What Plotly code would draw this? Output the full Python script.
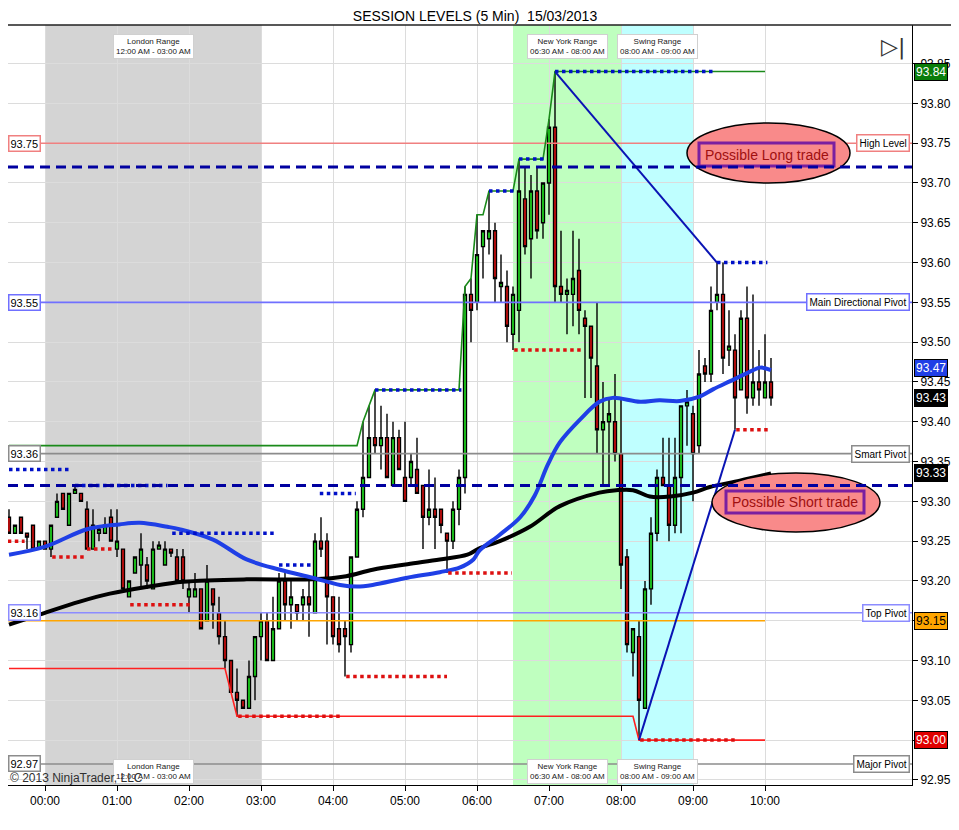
import pandas as pd
import plotly.graph_objects as go

# ---- 5 min bars, 23:30 (previous day) -> 10:05 ----
bar_open = [93.28, 93.26, 93.28, 93.26, 93.27, 93.24, 93.25, 93.24, 93.28, 93.31,
            93.27, 93.31, 93.31, 93.29, 93.24, 93.26, 93.26, 93.28, 93.24, 93.24,
            93.18, 93.21, 93.22, 93.22, 93.19, 93.24, 93.22, 93.24, 93.23, 93.23,
            93.18, 93.18, 93.19, 93.15, 93.19, 93.16, 93.13, 93.10, 93.06, 93.05,
            93.04, 93.08, 93.13, 93.15, 93.10, 93.14, 93.20, 93.17, 93.17, 93.17,
            93.18, 93.16, 93.25, 93.25, 93.18, 93.14, 93.14, 93.12, 93.23, 93.29,
            93.33, 93.38, 93.37, 93.38, 93.32, 93.38, 93.33, 93.33, 93.34, 93.32,
            93.28, 93.29, 93.29, 93.26, 93.25, 93.29, 93.33, 93.56, 93.55, 93.62,
            93.63, 93.64, 93.57, 93.57, 93.51, 93.54, 93.68, 93.63, 93.69, 93.65,
            93.70, 93.77, 93.57, 93.56, 93.56, 93.59, 93.53, 93.52, 93.47, 93.39,
            93.40, 93.40, 93.36, 93.23, 93.11, 93.13, 93.04, 93.19, 93.26, 93.33,
            93.32, 93.27, 93.33, 93.42, 93.41, 93.37, 93.47, 93.46, 93.55, 93.56,
            93.49, 93.49, 93.44, 93.53, 93.43, 93.45, 93.43, 93.45]
bar_high = [93.29, 93.27, 93.28, 93.26, 93.27, 93.25, 93.25, 93.27, 93.31, 93.31,
            93.31, 93.32, 93.31, 93.30, 93.29, 93.27, 93.28, 93.29, 93.29, 93.24,
            93.20, 93.23, 93.26, 93.23, 93.25, 93.25, 93.25, 93.24, 93.24, 93.24,
            93.20, 93.21, 93.19, 93.22, 93.19, 93.18, 93.15, 93.10, 93.09, 93.05,
            93.10, 93.13, 93.16, 93.16, 93.18, 93.21, 93.21, 93.20, 93.17, 93.19,
            93.20, 93.26, 93.28, 93.26, 93.18, 93.18, 93.15, 93.23, 93.30, 93.40,
            93.42, 93.44, 93.42, 93.41, 93.40, 93.39, 93.40, 93.36, 93.38, 93.32,
            93.34, 93.33, 93.29, 93.26, 93.30, 93.34, 93.57, 93.58, 93.66, 93.64,
            93.69, 93.65, 93.61, 93.59, 93.57, 93.73, 93.72, 93.71, 93.72, 93.70,
            93.78, 93.84, 93.64, 93.58, 93.64, 93.63, 93.54, 93.52, 93.55, 93.45,
            93.43, 93.46, 93.43, 93.24, 93.14, 93.15, 93.20, 93.28, 93.34, 93.38,
            93.38, 93.38, 93.42, 93.44, 93.42, 93.49, 93.48, 93.57, 93.60, 93.60,
            93.54, 93.51, 93.54, 93.57, 93.56, 93.49, 93.51, 93.48]
bar_low = [93.26, 93.26, 93.26, 93.24, 93.24, 93.24, 93.24, 93.23, 93.28, 93.29,
           93.27, 93.31, 93.30, 93.24, 93.24, 93.25, 93.26, 93.25, 93.23, 93.19,
           93.18, 93.21, 93.19, 93.19, 93.19, 93.24, 93.22, 93.23, 93.20, 93.19,
           93.16, 93.18, 93.14, 93.15, 93.14, 93.12, 93.09, 93.06, 93.03, 93.04,
           93.04, 93.05, 93.10, 93.10, 93.10, 93.14, 93.15, 93.14, 93.15, 93.15,
           93.13, 93.16, 93.23, 93.12, 93.12, 93.11, 93.08, 93.11, 93.23, 93.28,
           93.33, 93.36, 93.34, 93.33, 93.32, 93.34, 93.30, 93.32, 93.31, 93.24,
           93.27, 93.24, 93.26, 93.21, 93.24, 93.27, 93.31, 93.50, 93.54, 93.58,
           93.61, 93.55, 93.55, 93.50, 93.49, 93.50, 93.61, 93.58, 93.63, 93.63,
           93.66, 93.55, 93.55, 93.51, 93.52, 93.51, 93.43, 93.43, 93.36, 93.32,
           93.32, 93.35, 93.19, 93.11, 93.08, 93.00, 93.04, 93.17, 93.25, 93.32,
           93.25, 93.26, 93.26, 93.37, 93.30, 93.36, 93.45, 93.45, 93.54, 93.46,
           93.47, 93.39, 93.44, 93.41, 93.42, 93.42, 93.43, 93.42]
bar_close = [93.26, 93.27, 93.26, 93.255, 93.24, 93.25, 93.24, 93.27, 93.30, 93.29,
             93.31, 93.315, 93.30, 93.24, 93.27, 93.265, 93.27, 93.25, 93.25, 93.19,
             93.20, 93.23, 93.24, 93.20, 93.24, 93.245, 93.24, 93.235, 93.20, 93.20,
             93.19, 93.19, 93.14, 93.20, 93.17, 93.13, 93.10, 93.06, 93.05, 93.04,
             93.08, 93.13, 93.15, 93.10, 93.14, 93.20, 93.17, 93.18, 93.16, 93.18,
             93.17, 93.25, 93.24, 93.18, 93.13, 93.12, 93.13, 93.23, 93.29, 93.33,
             93.38, 93.37, 93.38, 93.33, 93.38, 93.34, 93.30, 93.35, 93.31, 93.28,
             93.29, 93.28, 93.27, 93.25, 93.29, 93.33, 93.56, 93.54, 93.61, 93.64,
             93.64, 93.58, 93.575, 93.52, 93.56, 93.69, 93.62, 93.69, 93.64, 93.70,
             93.77, 93.57, 93.56, 93.565, 93.58, 93.54, 93.52, 93.48, 93.39, 93.40,
             93.41, 93.36, 93.22, 93.12, 93.14, 93.05, 93.19, 93.26, 93.33, 93.32,
             93.27, 93.33, 93.42, 93.425, 93.36, 93.46, 93.46, 93.54, 93.56, 93.48,
             93.495, 93.43, 93.53, 93.43, 93.45, 93.44, 93.45, 93.43]

# ---- moving averages ----
ema_t = ["23:30", "00:00", "00:35", "01:02", "01:19", "01:42", "01:52", "02:20", "02:48",
         "03:16", "03:43", "04:06", "04:20", "04:33", "05:02", "05:29", "05:46", "05:57",
         "06:02", "06:19", "06:36", "06:48", "06:59", "07:09", "07:26", "07:42", "07:53",
         "08:16", "08:32", "08:49", "09:06", "09:17", "09:31", "09:45", "09:56", "10:05"]
ema_v = [93.233, 93.243, 93.265, 93.271, 93.273, 93.268, 93.265, 93.252, 93.227,
         93.214, 93.204, 93.195, 93.193, 93.195, 93.204, 93.211, 93.217, 93.227,
         93.238, 93.258, 93.280, 93.307, 93.346, 93.374, 93.403, 93.425, 93.430,
         93.425, 93.427, 93.426, 93.432, 93.441, 93.451, 93.461, 93.468, 93.465]
sma_t = ["23:30", "23:56", "00:29", "00:54", "01:27", "01:55", "02:48", "03:43", "04:11",
         "04:33", "05:02", "05:29", "05:52", "06:02", "06:19", "06:44", "07:09", "07:42",
         "07:56", "08:10", "08:24", "08:41", "09:00", "09:14", "09:39", "10:05"]
sma_v = [93.145, 93.158, 93.174, 93.184, 93.193, 93.199, 93.202, 93.202, 93.206,
         93.214, 93.221, 93.227, 93.233, 93.241, 93.250, 93.268, 93.294, 93.311,
         93.314, 93.314, 93.306, 93.306, 93.311, 93.318, 93.326, 93.335]

# ---- session high / low dotted segments ----
hi_lvl = [93.34, 93.32, 93.26, 93.22, 93.31, 93.44, 93.69, 93.73, 93.84, 93.60]
hi_from = ["23:30", "00:25", "01:46", "03:15", "03:49", "04:35", "06:10", "06:35", "07:05", "09:20"]
hi_to = ["00:22", "01:42", "03:12", "03:44", "04:19", "05:47", "06:32", "06:58", "09:19", "10:02"]
lo_lvl = [93.25, 93.23, 93.24, 93.17, 93.03, 93.08, 93.21, 93.49, 93.00, 93.39]
lo_from = ["23:29", "00:06", "00:35", "01:11", "02:41", "04:11", "05:36", "06:31", "08:16", "09:36"]
lo_to = ["23:43", "00:33", "00:58", "02:03", "04:07", "05:35", "06:29", "07:29", "09:35", "10:04"]

# running day high / low
run_hi_t = ["23:30", "04:20", "04:25", "04:30", "04:35", "05:45", "05:50", "05:55", "06:00",
            "06:05", "06:10", "06:30", "06:35", "06:55", "07:00", "07:05", "10:00"]
run_hi_v = [93.37, 93.37, 93.40, 93.42, 93.44, 93.44, 93.57, 93.58, 93.66,
            93.66, 93.69, 93.69, 93.73, 93.73, 93.78, 93.84, 93.84]
run_lo_t = ["23:30", "02:30", "02:35", "02:40", "08:10", "08:15", "10:00"]
run_lo_v = [93.09, 93.09, 93.06, 93.03, 93.03, 93.00, 93.00]

# swing lines
swing1_t = ["07:05", "09:20"]
swing1_v = [93.84, 93.60]
swing2_t = ["08:15", "09:35"]
swing2_v = [93.00, 93.39]

# ---- pivot levels ----
pivot_names = ["High Level", "Main Directional Pivot", "Smart Pivot", "Top Pivot", "Major Pivot"]
pivot_vals = [93.75, 93.55, 93.36, 93.16, 92.97]
pivot_cols = ["#f08080", "#7070ff", "#8c8c8c", "#8c8cff", "#8c8c8c"]
orange_lvl = 93.15
dashed_lvls = [93.72, 93.32]

hour_ticks = ["00:00", "01:00", "02:00", "03:00", "04:00", "05:00",
              "06:00", "07:00", "08:00", "09:00", "10:00"]
price_ticks = [92.95, 93.00, 93.05, 93.10, 93.15, 93.20, 93.25, 93.30, 93.35, 93.40,
               93.45, 93.50, 93.55, 93.60, 93.65, 93.70, 93.75, 93.80, 93.85]

# price markers on the axis (value, box colour, text colour)
axis_tags = [(93.84, "#0a7d0a", "white"), (93.467, "#1f3fe6", "white"), (93.43, "black", "white"),
             (93.335, "black", "white"), (93.15, "#ffa500", "black"), (93.00, "#e00000", "white")]

FONT = "Liberation Sans, Arial, sans-serif"
# page has an 8px body margin, so the figure is laid out 8px in from the window corner
OFF = 8
W, H = 959 - 2 * OFF, 830 - 2 * OFF
PLOT_L, PLOT_R, PLOT_T, PLOT_B = 8, 912, 25, 785   # window pixels
X_START = pd.Timestamp("2013-03-14 23:29:10")
X_END = pd.Timestamp("2013-03-15 12:02:30")


def t(hhmm):
    """HH:MM -> timestamp, evening hours belong to the previous day"""
    h = int(hhmm.split(":")[0])
    day = "2013-03-14" if h >= 20 else "2013-03-15"
    return pd.Timestamp(f"{day} {hhmm}")


def px_x(px):
    return (px - PLOT_L) / (PLOT_R - PLOT_L)


def px_y(py):
    return (PLOT_B - py) / (PLOT_B - PLOT_T)


def segments(levels, starts, ends):
    xs, ys = [], []
    for lv, a, b in zip(levels, starts, ends):
        xs += [t(a), t(b), None]
        ys += [lv, lv, None]
    return xs, ys


bar_time = pd.date_range("2013-03-14 23:30", periods=len(bar_open), freq="5min")

fig = go.Figure()

# pivot lines (as traces so the grid does not paint over them)
for val, col in zip(pivot_vals, pivot_cols):
    fig.add_trace(go.Scatter(x=[X_START, X_END], y=[val, val], mode="lines",
                             line=dict(color=col, width=1.6)))

# orange level + running high/low
fig.add_trace(go.Scatter(x=[X_START, t("10:00")], y=[orange_lvl, orange_lvl],
                         mode="lines", line=dict(color="#ffa500", width=1.5)))
fig.add_trace(go.Scatter(x=[t(v) for v in run_hi_t], y=run_hi_v, mode="lines",
                         line=dict(color="#1a8a1a", width=1.6)))
fig.add_trace(go.Scatter(x=[t(v) for v in run_lo_t], y=run_lo_v, mode="lines",
                         line=dict(color="#ff2020", width=1.6)))

fig.add_trace(go.Candlestick(
    x=bar_time, open=bar_open, high=bar_high, low=bar_low, close=bar_close,
    increasing=dict(line=dict(color="black", width=1.4), fillcolor="#22ee22"),
    decreasing=dict(line=dict(color="black", width=1.4), fillcolor="#e01010"),
    whiskerwidth=0))

fig.add_trace(go.Scatter(x=[t(v) for v in sma_t], y=sma_v, mode="lines",
                         line=dict(color="black", width=4, shape="spline")))
fig.add_trace(go.Scatter(x=[t(v) for v in ema_t], y=ema_v, mode="lines",
                         line=dict(color="#1f3fe6", width=4, shape="spline")))

hx, hy = segments(hi_lvl, hi_from, hi_to)
fig.add_trace(go.Scatter(x=hx, y=hy, mode="lines",
                         line=dict(color="#0010c8", width=3.5, dash="dot")))
lx, ly = segments(lo_lvl, lo_from, lo_to)
fig.add_trace(go.Scatter(x=lx, y=ly, mode="lines",
                         line=dict(color="#dd1010", width=3.5, dash="dot")))

for st, sv in [(swing1_t, swing1_v), (swing2_t, swing2_v)]:
    fig.add_trace(go.Scatter(x=[t(v) for v in st], y=sv, mode="lines",
                             line=dict(color="#0a14b4", width=2)))

# session background zones
for a, b, col in [("00:00", "03:00", "#d4d4d4"), ("06:30", "08:00", "#bfffbf"),
                  ("08:00", "09:00", "#bfffff")]:
    fig.add_shape(type="rect", x0=t(a), x1=t(b), y0=0, y1=1, xref="x", yref="paper",
                  fillcolor=col, line_width=0, layer="below")

# trade idea ellipses
ideas = [("Possible Long trade", (687, 850, 123, 183), (699, 834, 143, 166)),
         ("Possible Short trade", (712, 880, 473, 532), (726, 864, 491, 513))]
for text, ell, box in ideas:
    fig.add_shape(type="circle", xref="paper", yref="paper",
                  x0=px_x(ell[0]), x1=px_x(ell[1]), y0=px_y(ell[3]), y1=px_y(ell[2]),
                  fillcolor="#f98a8a", line=dict(color="black", width=1.5), layer="above")
    fig.add_shape(type="rect", xref="paper", yref="paper",
                  x0=px_x(box[0]), x1=px_x(box[1]), y0=px_y(box[3]), y1=px_y(box[2]),
                  fillcolor="#f98a8a", line=dict(color="#7a1fa0", width=3), layer="above")
    fig.add_annotation(x=px_x((box[0] + box[1]) / 2), y=px_y((box[2] + box[3]) / 2),
                       xref="paper", yref="paper", xanchor="center", yanchor="middle",
                       text=text, showarrow=False,
                       font=dict(family=FONT, size=14, color="#a01010"))

# dashed reference lines on top
for val in dashed_lvls:
    fig.add_shape(type="line", x0=0, x1=1, xref="paper", y0=val, y1=val, yref="y",
                  line=dict(color="#0000a0", width=3, dash="10px,6px"), layer="above")

# top border of the price panel
fig.add_shape(type="line", xref="paper", yref="paper", x0=0, x1=px_x(959), y0=1, y1=1,
              line=dict(color="#202020", width=1.5))

# pivot labels, left price and right name
for name, val, col in zip(pivot_names, pivot_vals, pivot_cols):
    fig.add_annotation(x=0.0, y=val, xref="paper", yref="y", xanchor="left", yanchor="middle",
                       text=f"{val:.2f}", showarrow=False, bgcolor="white", bordercolor=col,
                       borderwidth=1.5, borderpad=1, font=dict(family=FONT, size=11, color="black"))
    fig.add_annotation(x=px_x(910), y=val, xref="paper", yref="y", xanchor="right",
                       yanchor="middle", text=name, showarrow=False, bgcolor="white",
                       bordercolor=col, borderwidth=1.5, borderpad=2,
                       font=dict(family=FONT, size=10, color="black"))

for val, bg, fg in axis_tags:
    fig.add_annotation(x=px_x(914), y=val, xref="paper", yref="y", xanchor="left",
                       yanchor="middle", text=f"{val:.2f}", showarrow=False, bgcolor=bg,
                       bordercolor="black", borderwidth=1, borderpad=1,
                       font=dict(family=FONT, size=12, color=fg))

# tick labels hidden where a price tag sits right on top of them
tag_levels = [round(v, 2) for v, _, _ in axis_tags]
price_text = ["" if p in tag_levels else f"{p:.2f}" for p in price_ticks]

# session range labels top and bottom
zones = [("London Range", "12:00 AM - 03:00 AM", "01:30"),
         ("New York Range", "06:30 AM - 08:00 AM", "07:15"),
         ("Swing Range", "08:00 AM - 09:00 AM", "08:30")]
for title, span, mid in zones:
    for yy in (px_y(46), px_y(771)):
        fig.add_annotation(x=t(mid), y=yy, xref="x", yref="paper", xanchor="center",
                           yanchor="middle", showarrow=False,
                           text=f"{title}<br>{span}", bgcolor="white", bordercolor="#d0d0d0",
                           borderwidth=1, borderpad=2,
                           font=dict(family=FONT, size=8, color="#202020"))

fig.add_annotation(x=0.0, y=px_y(778), xref="paper", yref="paper", xanchor="left",
                   yanchor="middle", text="© 2013 NinjaTrader, LLC", showarrow=False,
                   font=dict(family=FONT, size=12, color="#303030"))
fig.add_annotation(x=px_x(893), y=px_y(47), xref="paper", yref="paper", xanchor="center",
                   yanchor="middle", text="▷|", showarrow=False,
                   font=dict(family="DejaVu Sans", size=22, color="#333333"))

fig.update_layout(
    width=W, height=H,
    margin=dict(l=PLOT_L - OFF, r=W - (PLOT_R - OFF), t=PLOT_T - OFF, b=H - (PLOT_B - OFF),
                autoexpand=False),
    paper_bgcolor="white", plot_bgcolor="white",
    showlegend=False,
    font=dict(family=FONT, size=12, color="black"),
    title=dict(text="SESSION LEVELS (5 Min)\u00a0 15/03/2013", x=(475 - OFF) / W, xanchor="center",
               y=1 - 8.5 / H, yanchor="middle", font=dict(size=14, color="black")),
    xaxis=dict(range=[X_START, X_END],
               tickvals=[t(h) for h in hour_ticks], ticktext=hour_ticks,
               showgrid=True, gridcolor="#dcdcdc", gridwidth=1,
               showline=True, linecolor="black", linewidth=1,
               ticks="outside", ticklen=5, tickcolor="black",
               rangeslider=dict(visible=False), zeroline=False,
               tickfont=dict(size=12)),
    yaxis=dict(range=[92.9436, 93.8985], side="right",
               tickvals=price_ticks, ticktext=price_text,
               showgrid=True, gridcolor="#dcdcdc", gridwidth=1,
               showline=True, linecolor="black", linewidth=1,
               ticks="outside", ticklen=5, tickcolor="black", zeroline=False,
               tickfont=dict(size=12)),
)

fig.write_html("out.html")
